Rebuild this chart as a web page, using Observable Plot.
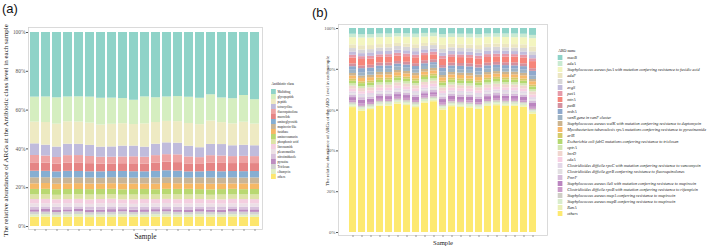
<!DOCTYPE html>
<html><head><meta charset="utf-8">
<script src="https://cdn.jsdelivr.net/npm/d3@7"></script>
<script src="https://cdn.jsdelivr.net/npm/@observablehq/plot@0.6"></script>
<style>
html,body{margin:0;padding:0;background:#fff;}
#fig{position:relative;width:709px;height:247px;overflow:hidden;background:#fff;}
#fig > *{position:absolute;left:0;top:0;}
.plabel{font-family:"Liberation Sans",Arial,sans-serif;font-size:13px;line-height:13px;color:#111;}
</style></head><body><div id="fig"></div>
<script>
// ---------- shared ----------
const samples = ["S1","S2","S3","S4","S5","S6","S7","S8","S9","S10","S11","S12","S13","S14","S15","S16","S17","S18","S19","S20","S21"];
const yTicks = [0, 0.2, 0.4, 0.6, 0.8, 1];

// ---------- panel (a): antibiotic class ----------
const classesA = ["Multidrug","glycopeptide","peptide","tetracycline","fluoroquinolone","macrolide","aminoglycoside","mupirocin-like","fusidane","aminocoumarin","phosphonic acid","lincosamide","pleuromutilin","nitroimidazole","pyrazine","Triclosan","elfamycin","others"];
const colorsA = ["#8fd3c8","#d5eec0","#eeeac3","#c0bcdc","#eea4a4","#e58585","#86aed2","#c9b597","#f6b866","#b9d872","#dde3a6","#f4cfe0","#ecdfe6","#d9c2dd","#bd8dc0","#d2d2d2","#e0efc3","#fde66e"];
const abundanceA = [
  [33.3,33.3,33.7,33.3,33.2,33.3,33.9,33.9,34.2,34.9,33.2,33.7,33.3,33.0,33.3,33.9,32.1,33.7,34.2,32.5,34.7], // Multidrug
  [12.9,13.2,13.6,12.8,13.0,13.4,13.8,13.5,13.0,12.5,13.9,12.8,12.6,12.9,13.5,13.6,13.5,12.7,13.0,13.8,12.6], // glycopeptide
  [11.2,11.7,11.8,11.6,11.5,11.5,11.4,11.7,11.6,11.1,12.0,11.2,11.1,11.1,11.7,11.9,12.1,11.3,11.3,11.9,11.2], // peptide
  [6.0,5.6,5.4,5.9,5.8,5.7,5.2,5.3,5.6,5.5,5.2,5.9,6.1,6.0,5.5,5.1,5.8,5.9,5.6,5.7,5.6], // tetracycline
  [3.8,3.7,3.5,3.8,3.8,3.7,3.5,3.5,3.5,3.6,3.5,3.8,3.9,4.0,3.6,3.5,3.8,3.8,3.6,3.7,3.6], // fluoroquinolone
  [4.3,4.2,3.9,4.3,4.4,4.2,4.0,3.9,4.0,4.1,4.0,4.3,4.4,4.4,4.1,3.8,4.3,4.3,4.1,4.2,4.1], // macrolide
  [3.4,3.3,3.2,3.4,3.3,3.2,3.3,3.2,3.3,3.3,3.2,3.4,3.6,3.4,3.2,3.1,3.4,3.3,3.3,3.3,3.3], // aminoglycoside
  [3.1,3.0,3.2,3.1,3.0,3.1,3.0,3.1,3.2,3.0,3.1,3.2,3.0,3.1,3.0,3.1,3.2,3.0,3.1,3.0,3.1], // mupirocin-like
  [2.9,3.0,2.8,2.9,3.0,2.9,2.8,2.9,3.0,2.9,2.8,2.9,3.0,2.9,2.8,3.0,2.9,2.9,2.8,3.0,2.9], // fusidane
  [2.8,2.7,2.9,2.8,2.7,2.8,2.9,2.7,2.8,2.8,2.9,2.7,2.8,2.8,2.9,2.7,2.8,2.8,2.9,2.7,2.8], // aminocoumarin
  [2.4,2.5,2.3,2.4,2.4,2.5,2.3,2.4,2.4,2.5,2.3,2.4,2.4,2.5,2.3,2.4,2.4,2.5,2.3,2.4,2.4], // phosphonic acid
  [2.2,2.3,2.2,2.1,2.2,2.3,2.2,2.2,2.1,2.3,2.2,2.2,2.1,2.2,2.3,2.2,2.1,2.2,2.3,2.2,2.2], // lincosamide
  [1.7,1.6,1.7,1.8,1.7,1.6,1.7,1.8,1.7,1.6,1.7,1.7,1.8,1.7,1.6,1.7,1.8,1.7,1.6,1.7,1.7], // pleuromutilin
  [1.4,1.3,1.4,1.4,1.3,1.4,1.5,1.4,1.3,1.4,1.4,1.3,1.4,1.4,1.5,1.3,1.4,1.4,1.3,1.4,1.4], // nitroimidazole
  [1.2,1.4,1.3,1.1,1.2,1.3,1.2,1.4,1.1,1.2,1.3,1.2,1.1,1.2,1.3,1.2,1.1,1.2,1.3,1.2,1.3], // pyrazine
  [1.4,1.3,1.4,1.5,1.4,1.3,1.4,1.4,1.5,1.3,1.4,1.4,1.5,1.4,1.3,1.4,1.4,1.3,1.4,1.5,1.4], // Triclosan
  [1.2,1.2,1.1,1.2,1.3,1.2,1.1,1.2,1.2,1.1,1.2,1.3,1.2,1.1,1.2,1.2,1.1,1.2,1.2,1.1,1.2], // elfamycin
  [4.8,4.9,4.7,4.8,4.9,4.6,4.8,4.7,4.9,4.8,4.7,4.8,4.9,4.8,4.7,4.9,4.8,4.7,4.9,4.8,4.7]  // others
];
const yTitleA = "The relative abundance of ARGs at the Antibiotic class level in each sample";
const legendTitleA = "Antibiotic class";

// ---------- panel (b): ARO name ----------
const classesB = ["macB","adeA","Staphylococcus aureus fusA with mutation conferring resistance to fusidic acid","adeF","tetA","evgS","patA","mtrA","patB","msbA","vanR gene in vanF cluster","Staphylococcus aureus walK with mutation conferring resistance to daptomycin","Mycobacterium tuberculosis rpsA mutations conferring resistance to pyrazinamide","arlR","Escherichia coli fabG mutations conferring resistance to triclosan","optrA","lmrD","cdeA","Clostridioides difficile rpoC with mutation conferring resistance to vancomycin","Clostridioides difficile gyrB conferring resistance to fluoroquinolones","PmrF","Staphylococcus aureus ileS with mutation conferring resistance to mupirocin","Clostridioides difficile rpoB with mutation conferring resistance to rifampicin","Staphylococcus aureus mupA conferring resistance to mupirocin","Staphylococcus aureus mupB conferring resistance to mupirocin","RanA","others"];
const colorsB = ["#8fd3c8","#c9ead2","#f3f5c0","#ece6c2","#d8d6d8","#c2bcdc","#e69aa8","#f6857a","#d4919f","#8fa9cc","#9eb3c4","#ccb48e","#f7b96c","#d5cb6a","#b4d970","#d3e6b3","#f1d6cf","#f7d0e3","#e3d8e8","#e2dfe2","#d6bddb","#bb85c0","#cc9cc9","#cfcfc6","#d9edcc","#eaf0b7","#fde970"];
const abundanceB = [
  [2.8,3.1,3.0,2.7,2.7,2.5,2.6,2.8,2.4,2.3,3.0,2.7,2.8,2.8,3.0,2.7,2.6,2.7,2.7,2.8,3.4], // macB
  [1.7,1.6,1.7,1.8,1.7,1.6,1.7,1.7,1.8,1.7,1.6,1.7,1.7,1.8,1.7,1.6,1.7,1.7,1.8,1.7,1.6], // adeA
  [3.5,3.8,3.7,3.4,3.4,3.2,3.3,3.5,3.1,3.0,3.7,3.4,3.5,3.5,3.7,3.4,3.3,3.4,3.4,3.5,4.1], // fusA
  [1.8,2.1,2.0,1.7,1.7,1.5,1.6,1.8,1.4,1.3,2.0,1.7,1.8,1.8,2.0,1.7,1.6,1.7,1.7,1.8,2.4], // adeF
  [1.7,1.8,1.6,1.7,1.7,1.8,1.7,1.6,1.7,1.7,1.8,1.7,1.6,1.7,1.7,1.8,1.7,1.6,1.7,1.7,1.8], // tetA
  [1.6,1.5,1.7,1.6,1.6,1.5,1.6,1.7,1.6,1.5,1.6,1.7,1.6,1.6,1.5,1.6,1.7,1.6,1.5,1.6,1.6], // evgS
  [1.3,1.4,1.3,1.2,1.3,1.4,1.3,1.3,1.2,1.3,1.4,1.3,1.3,1.2,1.3,1.4,1.3,1.3,1.2,1.3,1.4], // patA
  [2.9,3.2,3.1,2.8,2.8,2.6,2.7,2.9,2.5,2.4,3.1,2.8,2.9,2.9,3.1,2.8,2.7,2.8,2.8,2.9,3.5], // mtrA
  [1.4,1.3,1.4,1.5,1.4,1.3,1.4,1.4,1.5,1.4,1.3,1.4,1.4,1.5,1.4,1.3,1.4,1.4,1.5,1.4,1.3], // patB
  [1.7,2.0,1.9,1.6,1.6,1.4,1.5,1.7,1.3,1.2,1.9,1.6,1.7,1.7,1.9,1.6,1.5,1.6,1.6,1.7,2.3], // msbA
  [1.6,1.7,1.6,1.5,1.6,1.7,1.6,1.6,1.5,1.6,1.7,1.6,1.6,1.5,1.6,1.7,1.6,1.6,1.5,1.6,1.7], // vanR
  [1.2,1.1,1.2,1.3,1.2,1.1,1.2,1.2,1.3,1.2,1.1,1.2,1.2,1.3,1.2,1.1,1.2,1.2,1.3,1.2,1.1], // walK
  [1.6,1.7,1.6,1.5,1.6,1.7,1.6,1.6,1.5,1.6,1.7,1.6,1.6,1.5,1.6,1.7,1.6,1.6,1.5,1.6,1.7], // rpsA
  [1.0,0.9,1.0,1.1,1.0,0.9,1.0,1.0,1.1,1.0,0.9,1.0,1.0,1.1,1.0,0.9,1.0,1.0,1.1,1.0,0.9], // arlR
  [1.3,1.4,1.3,1.2,1.3,1.4,1.3,1.3,1.2,1.3,1.4,1.3,1.3,1.2,1.3,1.4,1.3,1.3,1.2,1.3,1.4], // fabG
  [1.1,1.0,1.1,1.2,1.1,1.0,1.1,1.1,1.2,1.1,1.0,1.1,1.1,1.2,1.1,1.0,1.1,1.1,1.2,1.1,1.0], // optrA
  [1.5,1.6,1.5,1.4,1.5,1.6,1.5,1.5,1.4,1.5,1.6,1.5,1.5,1.4,1.5,1.6,1.5,1.5,1.4,1.5,1.6], // lmrD
  [1.3,1.2,1.3,1.4,1.3,1.2,1.3,1.3,1.4,1.3,1.2,1.3,1.3,1.4,1.3,1.2,1.3,1.3,1.4,1.3,1.2], // cdeA
  [1.0,1.1,1.0,0.9,1.0,1.1,1.0,1.0,0.9,1.0,1.1,1.0,1.0,0.9,1.0,1.1,1.0,1.0,0.9,1.0,1.1], // rpoC
  [0.7,0.6,0.7,0.8,0.7,0.6,0.7,0.7,0.8,0.7,0.6,0.7,0.7,0.8,0.7,0.6,0.7,0.7,0.8,0.7,0.6], // gyrB
  [1.1,1.2,1.1,1.0,1.1,1.2,1.1,1.1,1.0,1.1,1.2,1.1,1.1,1.0,1.1,1.2,1.1,1.1,1.0,1.1,1.2], // PmrF
  [1.5,2.0,1.6,1.4,1.5,1.3,1.4,1.6,1.2,1.2,1.8,1.5,1.6,1.7,1.8,1.4,1.4,1.5,1.5,1.6,1.9], // ileS
  [1.0,1.1,1.0,1.0,0.9,1.0,1.1,1.0,1.0,0.9,1.0,1.1,1.0,1.0,0.9,1.0,1.1,1.0,1.0,0.9,1.0], // rpoB
  [0.8,0.8,0.9,0.8,0.7,0.8,0.8,0.9,0.8,0.7,0.8,0.8,0.9,0.8,0.7,0.8,0.8,0.9,0.8,0.7,0.8], // mupA
  [0.8,0.7,0.8,0.9,0.8,0.7,0.8,0.8,0.9,0.8,0.7,0.8,0.8,0.9,0.8,0.7,0.8,0.8,0.9,0.8,0.7], // mupB
  [0.8,0.9,0.8,0.7,0.8,0.9,0.8,0.8,0.7,0.8,0.9,0.8,0.8,0.7,0.8,0.9,0.8,0.8,0.7,0.8,0.9], // RanA
  [61.1,59.8,60.5,61.8,61.8,62.7,62.1,61.4,63.1,63.6,60.1,61.8,61.4,61.1,60.5,61.8,62.1,61.8,61.8,61.4,58.2] // others
];
const yTitleB = "The relative abundance of ARGs of the ARO  level in each sample";
const legendTitleB = "ARO name";

// ---------- helpers ----------
function tidy(classes, matrix) {
  const rows = [];
  // bottom of stack first: last class ("others") at the bottom
  for (let ci = classes.length - 1; ci >= 0; ci--) {
    samples.forEach((s, si) => rows.push({sample: s, cls: classes[ci], value: matrix[ci][si]}));
  }
  return rows;
}
const serif = "'Liberation Serif','Times New Roman',serif";
const pct = d => `${Math.round(d * 100)}%`;

function barPanel({classes, colors, matrix, width, ml, mr, mt, mb, insetTop, insetBottom, pi, po,
                   tickFont, titleText, titleFont, titleDx, titleDy, sampleFont, sampleDy}) {
  return Plot.plot({
    width, height: 247,
    marginLeft: ml, marginRight: mr, marginTop: mt, marginBottom: mb,
    style: {fontFamily: serif, background: "transparent", overflow: "visible"},
    x: {type: "band", domain: samples, paddingInner: pi, paddingOuter: po},
    y: {domain: [0, 1], insetTop, insetBottom},
    color: {domain: classes, range: colors},
    marks: [
      Plot.barY(tidy(classes, matrix), Plot.stackY({x: "sample", y: "value", z: "cls", fill: "cls", offset: "normalize"})),
      Plot.frame({stroke: "#d2d2d2", strokeWidth: 0.8}),
      Plot.axisY({ticks: yTicks, tickFormat: pct, tickSize: 2, tickPadding: 1, fontSize: tickFont, color: "#555", label: null}),
      Plot.axisX({tickSize: 2, tickFormat: () => "", color: "#999", label: null}),
      Plot.text([titleText], {text: d => d, frameAnchor: "left", textAnchor: "middle", lineAnchor: "middle", rotate: -90, dx: titleDx, dy: titleDy, fontSize: titleFont, fill: "#1a1a1a"}),
      Plot.text(["Sample"], {text: d => d, frameAnchor: "bottom", textAnchor: "middle", lineAnchor: "middle", dy: sampleDy, fontSize: sampleFont, fill: "#1a1a1a"})
    ]
  });
}

function legendPanel({classes, colors, x0, x1, yRange, textDx, fontSize, italic, title, titleFont, titleDy}) {
  return Plot.plot({
    width: 709, height: 247, margin: 0,
    style: {fontFamily: serif, background: "transparent", overflow: "visible"},
    x: {domain: [0, 1], range: [x0, x1], axis: null},
    y: {type: "band", domain: classes, range: yRange, paddingInner: 0.1, paddingOuter: 0.05, axis: null},
    color: {domain: classes, range: colors},
    marks: [
      Plot.barX(classes, {x1: () => 0, x2: () => 1, y: d => d, fill: d => d}),
      Plot.text(classes, {x: () => 1, y: d => d, text: d => d, textAnchor: "start", dx: textDx, fontSize, fontStyle: italic ? "italic" : "normal", fill: "#222"}),
      Plot.text([title], {x: () => 0, y: () => classes[0], text: d => d, textAnchor: "start", dy: titleDy, fontSize: titleFont, fill: "#111"})
    ]
  });
}

// ---------- assemble ----------
const fig = document.getElementById("fig");

const pa = barPanel({classes: classesA, colors: colorsA, matrix: abundanceA, width: 266,
  ml: 28, mr: 4, mt: 27, mb: 18, insetTop: 5, insetBottom: 3, pi: 0.14, po: 0.17,
  tickFont: 5.4, titleText: yTitleA, titleFont: 7, titleDx: -22.5, titleDy: 2, sampleFont: 7.3, sampleDy: 7});
pa.style.left = "0px";
fig.appendChild(pa);

const pb = barPanel({classes: classesB, colors: colorsB, matrix: abundanceB, width: 245,
  ml: 28, mr: 8, mt: 24, mb: 12, insetTop: 4, insetBottom: 3, pi: 0.17, po: 0.15,
  tickFont: 4.8, titleText: yTitleB, titleFont: 4.9, titleDx: -11.5, titleDy: -9, sampleFont: 6.7, sampleDy: 7});
pb.style.left = "310px";
fig.appendChild(pb);

fig.appendChild(legendPanel({classes: classesA, colors: colorsA, x0: 271, x1: 275.8, yRange: [80.3, 187.3],
  textDx: 1.2, fontSize: 3.2, italic: false, title: legendTitleA, titleFont: 3.6, titleDy: -8.5}));
fig.appendChild(legendPanel({classes: classesB, colors: colorsB, x0: 557.7, x1: 562.4, yRange: [48.5, 222.5],
  textDx: 4.3, fontSize: 4.2, italic: true, title: legendTitleB, titleFont: 3.9, titleDy: -7.7}));

for (const [txt, l, t] of [["(a)", 2, 2], ["(b)", 312, 6]]) {
  const d = document.createElement("div");
  d.className = "plabel"; d.textContent = txt;
  d.style.left = l + "px"; d.style.top = t + "px";
  fig.appendChild(d);
}
</script></body></html>
